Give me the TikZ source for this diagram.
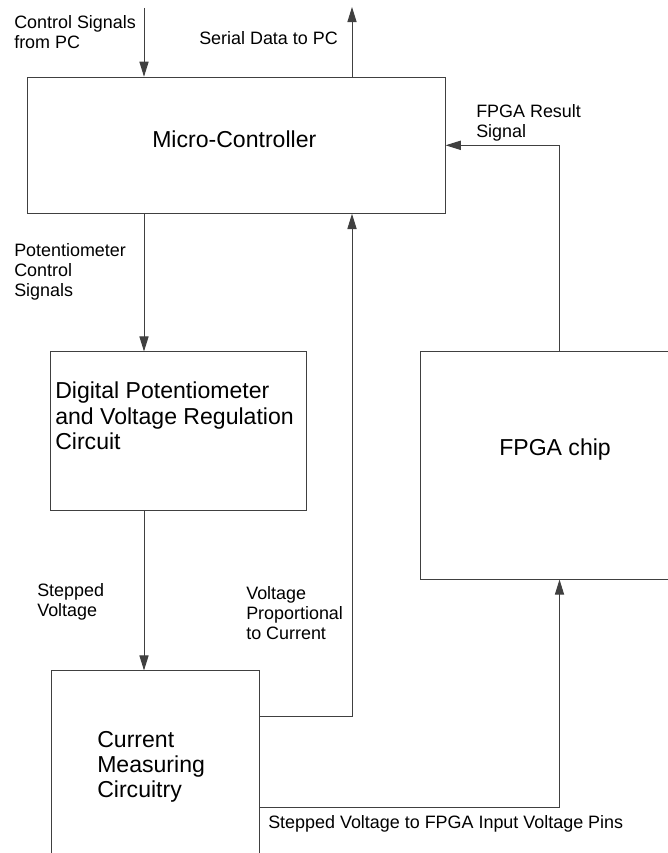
\documentclass[tikz,border=0pt]{standalone}
\usepackage{fontspec}
\setmainfont{Liberation Sans}
\usetikzlibrary{arrows.meta, calc}

\tikzset{
  blk/.style={draw=black!75, line width=0.7pt, inner sep=0pt},
  sig/.style={draw=black!75, line width=0.7pt, -{Triangle[length=0.38cm,width=0.23cm]}},
  lbl/.style={anchor=north west, inner sep=0pt, align=left, font=\fontsize{12.75}{14.2}\selectfont},
  big/.style={anchor=north west, inner sep=0pt, align=left, font=\fontsize{16.4}{17.8}\selectfont},
}

\begin{document}
\begin{tikzpicture}[x=0.025cm, y=-0.025cm]
  \useasboundingbox (0,0) rectangle (668,853);
  % blocks
  \node[blk, minimum width=10.425cm, minimum height=3.4cm] (mcu) at (236.5,145.3) {};
  \node[blk, minimum width=6.375cm, minimum height=3.95cm] (pot) at (178.5,431) {};
  \node[blk, minimum width=6.275cm, minimum height=5.675cm] (fpga) at (546.5,465.5) {};
  \node[blk, minimum width=5.175cm, minimum height=4.85cm] (cur) at (155.5,768) {};
  \coordinate (pcin) at (144,8);
  \coordinate (pcout) at (352,7);
  % signals
  \draw[sig] (pcin) -- (pcin |- mcu.north);
  \draw[sig] (mcu.north -| pcout) -- (pcout);
  \draw[sig] (mcu.south -| pcin) -- (pot.north -| pcin);
  \draw[sig] (pot.south -| pcin) -- (cur.north -| pcin);
  \draw[sig] ([yshift=1.3cm]cur.east) -| (mcu.south -| pcout);
  \draw[sig] ([yshift=-0.975cm]cur.east) -| ([xshift=0.325cm]fpga.south);
  \draw[sig] ([xshift=0.325cm]fpga.north) |- (mcu.east);
  % texts
  \node[lbl] (tpcin) at (14,15) {Control Signals\\from PC};
  \node[lbl] (tpcout) at (199,31) {Serial Data to PC};
  \node[big] (tmcu) at (152,131) {Micro-Controller};
  \node[lbl] (tres) at (476,104) {FPGA Result\\Signal};
  \node[lbl] (tpotc) at (14,243) {Potentiometer\\Control\\Signals};
  \node[big] (tpot) at (55,382) {Digital Potentiometer\\and Voltage Regulation\\Circuit};
  \node[big] (tfpga) at (499,439) {FPGA chip};
  \node[lbl] (tstep) at (37,583) {Stepped\\Voltage};
  \node[lbl] (tprop) at (246,586) {Voltage\\Proportional\\to Current};
  \node[big] (tcur) at (97,731) {Current\\Measuring\\Circuitry};
  \node[lbl] (tpins) at (268,815) {Stepped Voltage to FPGA Input Voltage Pins};
\end{tikzpicture}
\end{document}
